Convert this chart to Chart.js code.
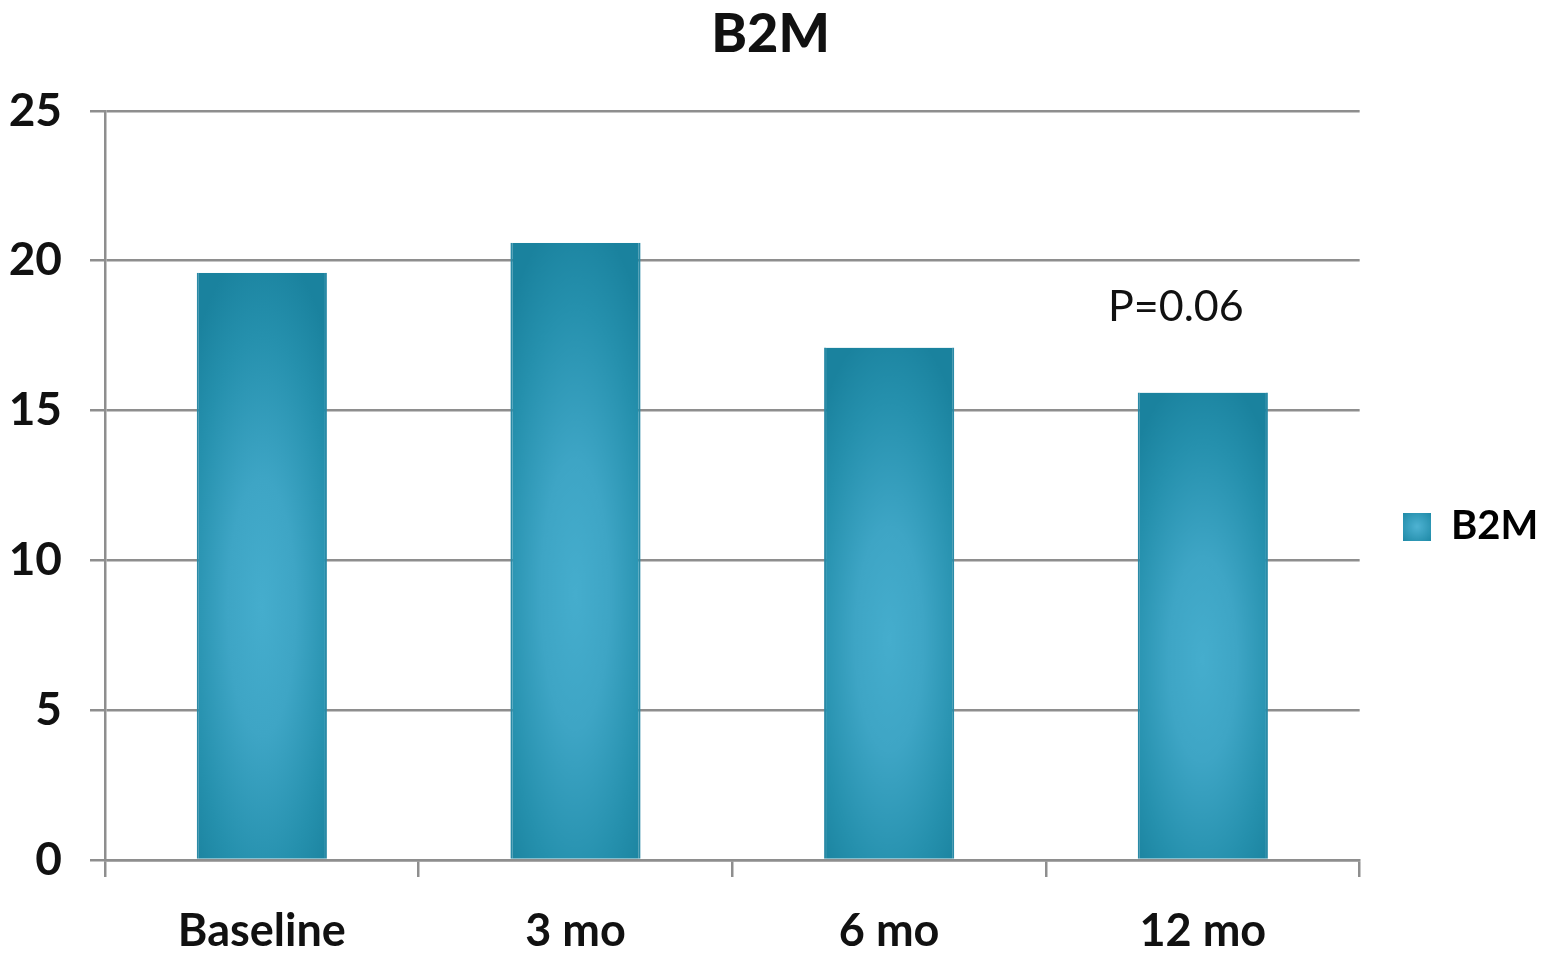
<!DOCTYPE html>
<html>
<head>
<meta charset="utf-8">
<title>B2M</title>
<script src="https://cdn.jsdelivr.net/npm/chart.js@4/dist/chart.umd.min.js"></script>
<style>
  html, body { margin: 0; padding: 0; background: #ffffff; }
  #wrap { width: 1541px; height: 955px; }
</style>
</head>
<body>
<div id="wrap"><canvas id="chart" width="1541" height="955"></canvas></div>
<script>
// Timepoints and mean B2M values
const categories = ['Baseline', '3 mo', '6 mo', '12 mo'];
const b2mValues = [19.6, 20.6, 17.1, 15.6];
const yTicks = [0, 5, 10, 15, 20, 25];
const seriesName = 'B2M';
const pValueText = 'P=0.06';

const FONT = 'Lato, "Open Sans", "DejaVu Sans", sans-serif';
const GRID = '#8e8e8e';
const BAR_FRACTION = 0.415;
const LEGEND_PAD = 36;

// Elliptical shading for each bar: light in the middle, darker towards the edges
function barFill(context) {
  const chart = context.chart;
  const xs = chart.scales.x, ys = chart.scales.y;
  if (!xs || !ys || !chart.chartArea || context.type !== 'data') return '#2f9bbb';
  const i = context.dataIndex;
  const cx = xs.getPixelForValue(i);
  const w = Math.max(2, Math.round(xs.width / categories.length * BAR_FRACTION));
  const top = ys.getPixelForValue(context.raw);
  const bottom = ys.getPixelForValue(0);
  const h = Math.max(2, Math.round(bottom - top));
  const off = document.createElement('canvas');
  off.width = w; off.height = h;
  const g = off.getContext('2d');
  g.save();
  g.translate(w / 2, h * 0.57);
  g.scale(w * 0.75, h * 0.62);
  const rg = g.createRadialGradient(0, 0, 0, 0, 0, 1);
  rg.addColorStop(0, '#45adcd');
  rg.addColorStop(0.35, '#3ea5c5');
  rg.addColorStop(0.75, '#2590ad');
  rg.addColorStop(1, '#1a829e');
  g.fillStyle = rg;
  g.fillRect(-2, -2, 4, 4);
  g.restore();
  const pat = chart.ctx.createPattern(off, 'no-repeat');
  pat.setTransform(new DOMMatrix().translate(cx - w / 2, top));
  return pat;
}

// Legend swatch: small square with the same shading
function legendSwatch() {
  const s = 28;
  const off = document.createElement('canvas');
  off.width = s; off.height = s;
  const g = off.getContext('2d');
  const rg = g.createRadialGradient(s / 2, s / 2, 0, s / 2, s / 2, s * 0.7);
  rg.addColorStop(0, '#4fb3d3');
  rg.addColorStop(1, '#1f8aa7');
  g.fillStyle = rg;
  g.fillRect(0, 0, s, s);
  return off;
}

// Text note placed beside the last bar
const pValuePlugin = {
  id: 'pValue',
  afterDatasetsDraw(chart) {
    const { ctx } = chart;
    const xs = chart.scales.x, ys = chart.scales.y;
    const x = xs.getPixelForValue(categories.length - 1) - 27;
    const y = ys.getPixelForValue(18.45);
    ctx.save();
    ctx.font = '400 43px ' + FONT;
    ctx.fillStyle = '#111111';
    ctx.textAlign = 'center';
    ctx.textBaseline = 'middle';
    ctx.fillText(pValueText, x, y);
    ctx.restore();
  }
};

// Place the legend block to the right of the plot, slightly below centre
const legendPlacement = {
  id: 'legendPlacement',
  afterLayout(chart) {
    const l = chart.legend;
    if (!l) return;
    const dx = (1403 - LEGEND_PAD) - l.left;
    const dy = 49;
    l.left += dx; l.right += dx;
    l.top += dy; l.bottom += dy;
  }
};

new Chart(document.getElementById('chart'), {
  type: 'bar',
  data: {
    labels: categories,
    datasets: [{
      label: seriesName,
      data: b2mValues,
      backgroundColor: barFill,
      borderColor: '#2a8aa6',
      borderWidth: { left: 2, right: 2, top: 0, bottom: 0 },
      borderSkipped: false,
      barPercentage: BAR_FRACTION,
      categoryPercentage: 1.0
    }]
  },
  options: {
    responsive: false,
    animation: false,
    devicePixelRatio: 1,
    layout: { padding: { left: 0, right: 0, top: 0, bottom: 0 } },
    plugins: {
      title: {
        display: true,
        text: seriesName,
        color: '#111111',
        font: { family: FONT, size: 54, weight: '900', lineHeight: 1.2 },
        padding: { top: 2, bottom: 44 }
      },
      legend: {
        display: true,
        position: 'right',
        align: 'center',
        labels: {
          color: '#111111',
          font: { family: FONT, size: 40, weight: 'bold' },
          boxWidth: 28,
          boxHeight: 28,
          padding: LEGEND_PAD,
          generateLabels(chart) {
            return [{
              text: seriesName,
              fillStyle: '#2f9bbb',
              strokeStyle: 'rgba(0,0,0,0)',
              lineWidth: 0,
              pointStyle: legendSwatch(),
              hidden: false,
              datasetIndex: 0
            }];
          },
          usePointStyle: true
        }
      },
      tooltip: { enabled: false }
    },
    scales: {
      x: {
        z: 1,
        offset: true,
        grid: {
          display: true,
          offset: true,
          drawOnChartArea: false,
          drawTicks: true,
          tickLength: 17,
          color: GRID,
          lineWidth: 2.5
        },
        border: { display: true, color: GRID, width: 2.5 },
        ticks: {
          color: '#111111',
          font: { family: FONT, size: 45, weight: 'bold' },
          padding: 27,
          maxRotation: 0
        },
        afterFit(scale) { scale.height = 95; }
      },
      y: {
        min: 0,
        max: 25,
        afterBuildTicks(scale) { scale.ticks = yTicks.map(v => ({ value: v })); },
        grid: {
          display: true,
          drawOnChartArea: true,
          drawTicks: true,
          tickLength: 15,
          color: GRID,
          lineWidth: 2.5
        },
        border: { display: true, color: GRID, width: 2.5 },
        ticks: {
          color: '#111111',
          font: { family: FONT, size: 46, weight: 'bold' },
          padding: 28
        },
        afterFit(scale) { scale.width = 105; }
      }
    }
  },
  plugins: [pValuePlugin, legendPlacement]
});
</script>
</body>
</html>
